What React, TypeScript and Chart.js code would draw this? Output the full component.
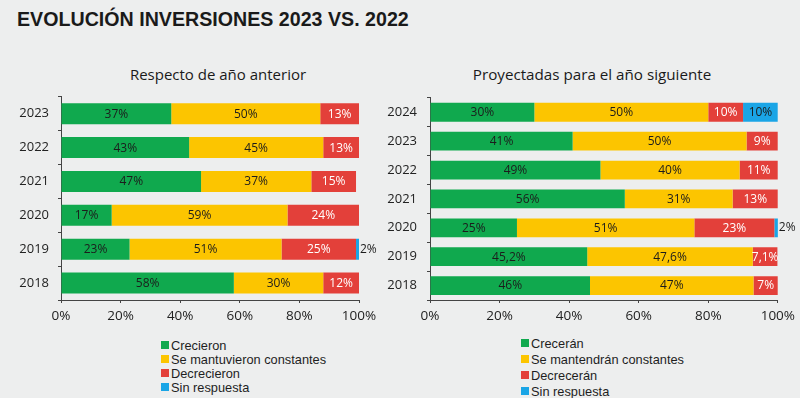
import React, { useEffect, useRef } from 'react';
import { Chart, registerables } from 'chart.js';

Chart.register(...registerables);

const TITLE = 'EVOLUCIÓN INVERSIONES 2023 VS. 2022';

const leftTitle = 'Respecto de año anterior';
const leftYears = ['2023', '2022', '2021', '2020', '2019', '2018'];
const leftGrew = [37, 43, 47, 17, 23, 58];
const leftSame = [50, 45, 37, 59, 51, 30];
const leftFell = [13, 13, 15, 24, 25, 12];
const leftNone = [null, null, null, null, 2, null];
const leftSeriesNames = ['Crecieron', 'Se mantuvieron constantes', 'Decrecieron', 'Sin respuesta'];

const rightTitle = 'Proyectadas para el año siguiente';
const rightYears = ['2024', '2023', '2022', '2021', '2020', '2019', '2018'];
const rightGrow = [30, 41, 49, 56, 25, 45.2, 46];
const rightSame = [50, 50, 40, 31, 51, 47.6, 47];
const rightFall = [10, 9, 11, 13, 23, 7.1, 7];
const rightNone = [10, null, null, null, 2, null, null];
const rightSeriesNames = ['Crecerán', 'Se mantendrán constantes', 'Decrecerán', 'Sin respuesta'];

const xTicks = [0, 20, 40, 60, 80, 100];

const COLORS = ['#10a94e', '#fcc500', '#e3403a', '#1aa5e6'];
const LABEL_COLORS = ['#1c1c1c', '#1c1c1c', '#ffffff', '#1c1c1c'];
const BG = '#edeeee';
const FONT = "'Open Sans', 'Liberation Sans', sans-serif";
const ARIAL = "'Liberation Sans', Arial, sans-serif";

const fmt = (v: number) => String(v).replace('.', ',') + '%';

const labelPlugin = {
  id: 'segLabels',
  afterDatasetsDraw(chart: any) {
    const ctx = chart.ctx;
    const area = chart.chartArea;
    ctx.save();
    ctx.font = `12px ${FONT}`;
    ctx.textBaseline = 'middle';
    chart.data.datasets.forEach((ds: any, di: number) => {
      const meta = chart.getDatasetMeta(di);
      meta.data.forEach((bar: any, i: number) => {
        const v = ds.data[i];
        if (v === null || v === undefined) return;
        const start = Math.max(Math.min(bar.base, bar.x), area.left);
        const end = Math.min(Math.max(bar.base, bar.x), area.right);
        const w = end - start;
        const txt = fmt(v);
        if (w < 14) {
          ctx.fillStyle = '#1c1c1c';
          ctx.textAlign = 'left';
          ctx.fillText(txt, end + 1, bar.y);
        } else {
          ctx.fillStyle = LABEL_COLORS[di];
          ctx.textAlign = 'center';
          ctx.fillText(txt, (start + end) / 2, bar.y + 0.5);
        }
      });
    });
    ctx.restore();
  },
};

function makeConfig(
  years: string[],
  series: (number | null)[][],
  names: string[],
  yWidth: number,
  pad: { left: number; right: number; top: number; bottom: number },
  barPct: number,
  yPad: number
): any {
  return {
    type: 'bar',
    data: {
      labels: years,
      datasets: series.map((d, i) => ({
        label: names[i],
        data: d,
        backgroundColor: COLORS[i],
        borderWidth: 0,
        categoryPercentage: 1,
        barPercentage: barPct,
        clip: 0,
      })),
    },
    options: {
      indexAxis: 'y',
      animation: false,
      responsive: false,
      layout: { padding: pad },
      plugins: {
        legend: { display: false },
        title: { display: false },
        tooltip: { enabled: false },
      },
      scales: {
        x: {
          stacked: true,
          min: 0,
          max: 100,
          afterBuildTicks: (scale: any) => {
            scale.ticks = xTicks.map((v) => ({ value: v }));
          },
          afterFit: (scale: any) => {
            scale.height = 24;
          },
          border: { display: true, color: '#444444', width: 1 },
          grid: { display: true, drawOnChartArea: false, drawTicks: true, tickLength: 3, color: '#444444' },
          ticks: {
            callback: (v: any) => v + '%',
            color: '#222222',
            padding: 5,
            maxRotation: 0,
            font: { family: FONT, size: 13.5 },
          },
        },
        y: {
          stacked: true,
          afterFit: (scale: any) => {
            scale.width = yWidth;
          },
          border: { display: true, color: '#444444', width: 1 },
          grid: { display: true, drawOnChartArea: false, drawTicks: true, tickLength: 3, color: '#444444', offset: true },
          ticks: {
            color: '#222222',
            padding: yPad,
            font: { family: FONT, size: 13 },
          },
        },
      },
    },
    plugins: [labelPlugin],
  };
}

function BarChart(props: {
  years: string[];
  series: (number | null)[][];
  names: string[];
  width: number;
  height: number;
  yWidth: number;
  pad: { left: number; right: number; top: number; bottom: number };
  barPct: number;
  yPad: number;
}) {
  const ref = useRef<HTMLCanvasElement | null>(null);
  useEffect(() => {
    if (!ref.current) return;
    const chart = new Chart(
      ref.current,
      makeConfig(props.years, props.series, props.names, props.yWidth, props.pad, props.barPct, props.yPad)
    );
    return () => chart.destroy();
  }, []);
  return <canvas ref={ref} width={props.width} height={props.height} style={{ display: 'block', width: props.width, height: props.height }} />;
}

function Legend(props: { names: string[]; x: number; y: number; lineH: number }) {
  return (
    <div style={{ position: 'absolute', left: props.x, top: props.y }}>
      {props.names.map((n, i) => (
        <div key={n} style={{ display: 'flex', alignItems: 'center', height: props.lineH, fontFamily: ARIAL, fontSize: 12.8, color: '#1e1e1e', whiteSpace: 'nowrap' }}>
          <span style={{ display: 'inline-block', width: 8, height: 8, background: COLORS[i], marginRight: 2 }} />
          <span>{n}</span>
        </div>
      ))}
    </div>
  );
}

export default function App() {
  useEffect(() => {
    document.body.style.margin = '0';
  }, []);
  return (
    <div style={{ position: 'absolute', left: 0, top: 0, width: 800, height: 398, background: BG, overflow: 'hidden' }}>
      <div
        style={{
          position: 'absolute',
          left: 17,
          top: 7,
          fontFamily: ARIAL,
          fontWeight: 'bold',
          fontSize: 21,
          color: '#1a1a1a',
          whiteSpace: 'nowrap',
          transform: 'scaleX(0.935)',
          transformOrigin: 'left top',
        }}
      >
        {TITLE}
      </div>
      <div style={{ position: 'absolute', left: 118, width: 200, top: 64, textAlign: 'center', fontFamily: FONT, fontSize: 15, color: '#1a1a1a', whiteSpace: 'nowrap' }}>
        {leftTitle}
      </div>
      <div style={{ position: 'absolute', left: 442, width: 300, top: 64, textAlign: 'center', fontFamily: FONT, fontSize: 15.2, color: '#1a1a1a', whiteSpace: 'nowrap' }}>
        {rightTitle}
      </div>
      <div style={{ position: 'absolute', left: 0, top: 80 }}>
        <BarChart
          years={leftYears}
          series={[leftGrew, leftSame, leftFell, leftNone]}
          names={leftSeriesNames}
          width={400}
          height={250}
          yWidth={61}
          pad={{ left: 0, right: 41, top: 7, bottom: 6 }}
          barPct={0.62}
          yPad={9}
        />
      </div>
      <div style={{ position: 'absolute', left: 370, top: 80 }}>
        <BarChart
          years={rightYears}
          series={[rightGrow, rightSame, rightFall, rightNone]}
          names={rightSeriesNames}
          width={430}
          height={250}
          yWidth={60}
          pad={{ left: 0, right: 21, top: 15, bottom: 6 }}
          barPct={0.65}
          yPad={10}
        />
      </div>
      <Legend names={leftSeriesNames} x={161} y={338} lineH={14} />
      <Legend names={rightSeriesNames} x={521} y={335} lineH={16} />
    </div>
  );
}
